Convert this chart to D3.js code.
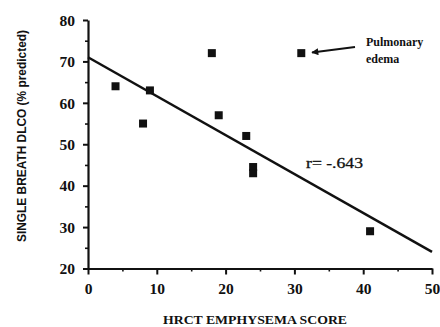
<!DOCTYPE html>
<html>
<head>
<meta charset="utf-8">
<script src="https://cdn.jsdelivr.net/npm/d3@7"></script>
<style>
  body { margin: 0; background: #fff; }
  svg { display: block; }
</style>
</head>
<body>
<div id="chart"></div>
<script>
// data
const scores = [4, 8, 9, 18, 19, 23, 24, 24, 31, 41];
const dlco = [64, 55, 63, 72, 57, 52, 44.5, 43, 72, 29];
const fitLine = [[0, 71], [50, 24]];
const xTicks = [0, 10, 20, 30, 40, 50];
const yTicks = [20, 30, 40, 50, 60, 70, 80];
const xMinor = [5, 15, 25, 35, 45];
const yMinor = [25, 35, 45, 55, 65, 75];

const width = 440, height = 327;
const margin = { left: 88, right: 8, top: 20, bottom: 58.5 };
const serif = '"Liberation Serif", "Times New Roman", serif';
const ink = "#111";

const svg = d3.select("#chart").append("svg")
  .attr("width", width)
  .attr("height", height);

const x = d3.scaleLinear().domain([0, 50]).range([margin.left, width - margin.right]);
const y = d3.scaleLinear().domain([20, 80]).range([height - margin.bottom, margin.top]);

// minor ticks
svg.append("g")
  .attr("transform", `translate(0,${y(20)})`)
  .call(d3.axisBottom(x).tickValues(xMinor).tickSize(3).tickFormat(""))
  .call(g => g.select(".domain").remove())
  .selectAll("line").attr("stroke", ink).attr("stroke-width", 1.6);

svg.append("g")
  .attr("transform", `translate(${x(0)},0)`)
  .call(d3.axisLeft(y).tickValues(yMinor).tickSize(3).tickFormat(""))
  .call(g => g.select(".domain").remove())
  .selectAll("line").attr("stroke", ink).attr("stroke-width", 1.6);

// main axes
const styleAxis = g => {
  g.select(".domain").attr("stroke", ink).attr("stroke-width", 2.2);
  g.selectAll("line").attr("stroke", ink).attr("stroke-width", 2);
  g.selectAll("text")
    .attr("fill", ink)
    .attr("font-family", serif)
    .attr("font-weight", "bold")
    .attr("font-size", 15.5);
};

svg.append("g")
  .attr("transform", `translate(0,${y(20)})`)
  .call(d3.axisBottom(x).tickValues(xTicks).tickSize(6).tickSizeOuter(0).tickPadding(8))
  .call(styleAxis);

svg.append("g")
  .attr("transform", `translate(${x(0)},0)`)
  .call(d3.axisLeft(y).tickValues(yTicks).tickSize(5).tickSizeOuter(0).tickPadding(8))
  .call(styleAxis)
  .selectAll("text").attr("dy", "0.34em");

// regression line
svg.append("path")
  .datum(fitLine)
  .attr("d", d3.line().x(d => x(d[0])).y(d => y(d[1])))
  .attr("fill", "none")
  .attr("stroke", ink)
  .attr("stroke-width", 2.5);

// points
const sz = 8;
svg.append("g")
  .selectAll("rect")
  .data(scores.map((s, i) => ({ s, v: dlco[i] })))
  .join("rect")
  .attr("x", d => x(d.s) - sz / 2)
  .attr("y", d => y(d.v) - sz / 2)
  .attr("width", sz)
  .attr("height", sz)
  .attr("fill", ink);

// annotations
svg.append("text")
  .attr("x", 306).attr("y", 168)
  .attr("font-family", serif).attr("font-size", 15)
  .attr("fill", ink)
  .attr("stroke", ink).attr("stroke-width", 0.3)
  .attr("textLength", 57).attr("lengthAdjust", "spacingAndGlyphs")
  .text("r= -.643");

svg.append("defs").append("marker")
  .attr("id", "arrow")
  .attr("viewBox", "0 0 10 10")
  .attr("refX", 9).attr("refY", 5)
  .attr("markerWidth", 5).attr("markerHeight", 3.5)
  .attr("orient", "auto")
  .append("path")
  .attr("d", "M0,0 L10,5 L0,10 Z")
  .attr("fill", ink);

svg.append("line")
  .attr("x1", 355).attr("y1", 47)
  .attr("x2", 312).attr("y2", 52.5)
  .attr("stroke", ink).attr("stroke-width", 2)
  .attr("marker-end", "url(#arrow)");

const note = svg.append("text")
  .attr("font-family", serif).attr("font-size", 12)
  .attr("font-weight", "bold").attr("fill", ink);
note.append("tspan").attr("x", 366).attr("y", 46).text("Pulmonary");
note.append("tspan").attr("x", 366).attr("y", 63).text("edema");

// axis titles
svg.append("text")
  .attr("x", 255).attr("y", 324)
  .attr("text-anchor", "middle")
  .attr("font-family", serif).attr("font-size", 13)
  .attr("font-weight", "bold").attr("fill", ink)
  .attr("textLength", 184).attr("lengthAdjust", "spacingAndGlyphs")
  .text("HRCT EMPHYSEMA SCORE");

svg.append("text")
  .attr("transform", "translate(26,136) rotate(-90)")
  .attr("text-anchor", "middle")
  .attr("font-family", '"Liberation Sans Narrow", "Liberation Sans", sans-serif')
  .attr("font-size", 12.5)
  .attr("font-weight", "bold").attr("fill", ink)
  .attr("textLength", 212).attr("lengthAdjust", "spacingAndGlyphs")
  .text("SINGLE BREATH DLCO (% predicted)");
</script>
</body>
</html>
